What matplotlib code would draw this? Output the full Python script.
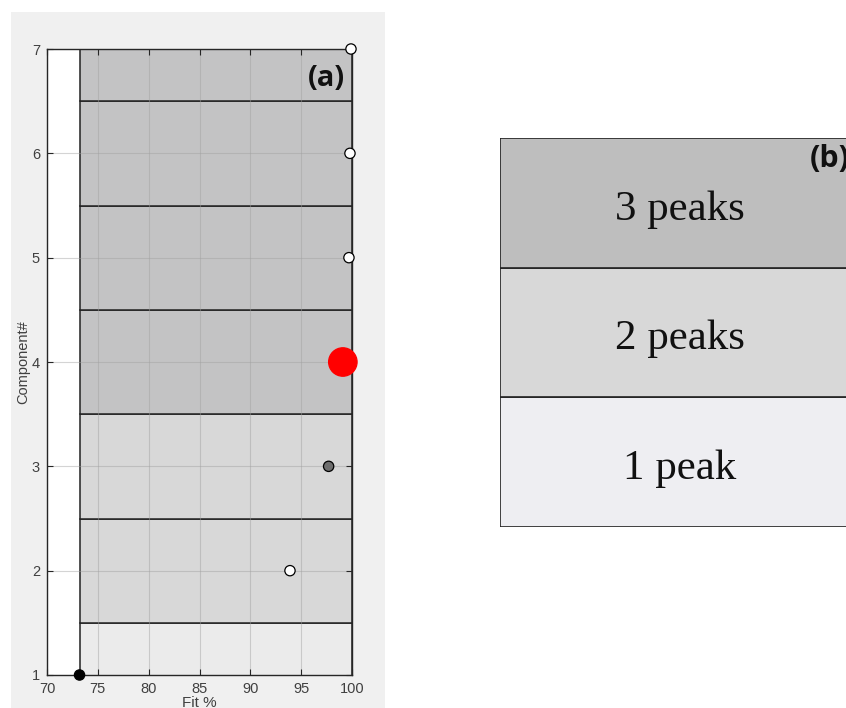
import matplotlib.pyplot as plt
from matplotlib.patches import Rectangle

# panel (a) data
components = [1, 2, 3, 4, 5, 6, 7]
fit_pct = [73.2, 93.9, 97.7, 99.1, 99.7, 99.8, 99.9]
n_peaks = [1, 2, 2, 3, 3, 3, 3]
dot_colors = ['black', 'white', '#6e6e6e', 'red', 'white', 'white', 'white']
dot_sizes = [55, 55, 55, 420, 55, 55, 55]
x_ticks = [70, 75, 80, 85, 90, 95, 100]
y_ticks = [1, 2, 3, 4, 5, 6, 7]

# panel (b) data
peak_labels = ['1 peak', '2 peaks', '3 peaks']
peak_colors = {1: '#ebebeb', 2: '#d8d8d8', 3: '#c3c3c4'}
table_colors = ['#eeeef2', '#d8d8d8', '#bebebe']

W, H = 846, 708
fig = plt.figure(figsize=(W / 100, H / 100), dpi=100)
fig.patch.set_facecolor('white')

# grey figure panel behind (a)
fig.patches.append(Rectangle((11 / W, 0), 374 / W, 1 - 12 / H, transform=fig.transFigure,
                             facecolor='#f0f0f0', edgecolor='none', zorder=-5))

ax = fig.add_axes([47 / W, 1 - 675 / H, (352 - 47) / W, (675 - 49) / H])
ax.set_zorder(2)
ax.set_facecolor('white')
x0 = fit_pct[0]
band_colors = [peak_colors[n] for n in n_peaks]
ax.barh(components, [100 - x0] * len(components), left=x0, height=1.0,
        color=band_colors, edgecolor='#222222', linewidth=1.1, zorder=1)
ax.scatter(fit_pct, components, s=dot_sizes, c=dot_colors, edgecolors=['black'] * 3 + ['red'] + ['black'] * 3,
           linewidths=0.9, zorder=5, clip_on=False)

ax.set_xlim(70, 100)
ax.set_ylim(1, 7)
ax.set_xticks(x_ticks)
ax.set_yticks(y_ticks)
ax.grid(True, color='#a0a0a0', alpha=0.45, linewidth=0.8)
ax.set_axisbelow(False)
for s in ax.spines.values():
    s.set_color('#262626')
    s.set_linewidth(1.0)
    s.set_zorder(4)
ax.tick_params(direction='in', length=4, top=True, right=True, colors='#262626',
               labelcolor='#404040', labelsize=10.5)
ax.tick_params(axis='x', pad=5)
ax.tick_params(axis='y', pad=5)
for lab in ax.get_xticklabels() + ax.get_yticklabels():
    lab.set_fontfamily('Liberation Sans')
ax.set_xlabel('Fit %', fontsize=11, color='#404040', family='Liberation Sans', labelpad=0)
ax.set_ylabel('Component#', fontsize=10.5, color='#404040', family='Liberation Sans', labelpad=1)
ax.text(99.3, 6.72, '(a)', fontsize=21, fontweight='bold', family='Open Sans',
        color='#111111', ha='right', va='center', zorder=6)

# panel (b)
bx = fig.add_axes([500 / W, 1 - 527 / H, 400 / W, (527 - 138) / H])
bx.barh([0.5, 1.5, 2.5], [1, 1, 1], left=0, height=1.0, color=table_colors,
        edgecolor='#222222', linewidth=1.2)
for i, lab in enumerate(peak_labels):
    bx.text(0.45, i + 0.45, lab, fontsize=31, family='Liberation Serif',
            ha='center', va='center', color='#111111')
bx.set_xlim(0, 1)
bx.set_ylim(0, 3)
bx.axis('off')
fig.text(810 / W, 1 - 159 / H, '(b)', fontsize=22, fontweight='bold', family='Open Sans',
         color='#111111', ha='left', va='center')

fig.savefig('out.png', dpi=100)
